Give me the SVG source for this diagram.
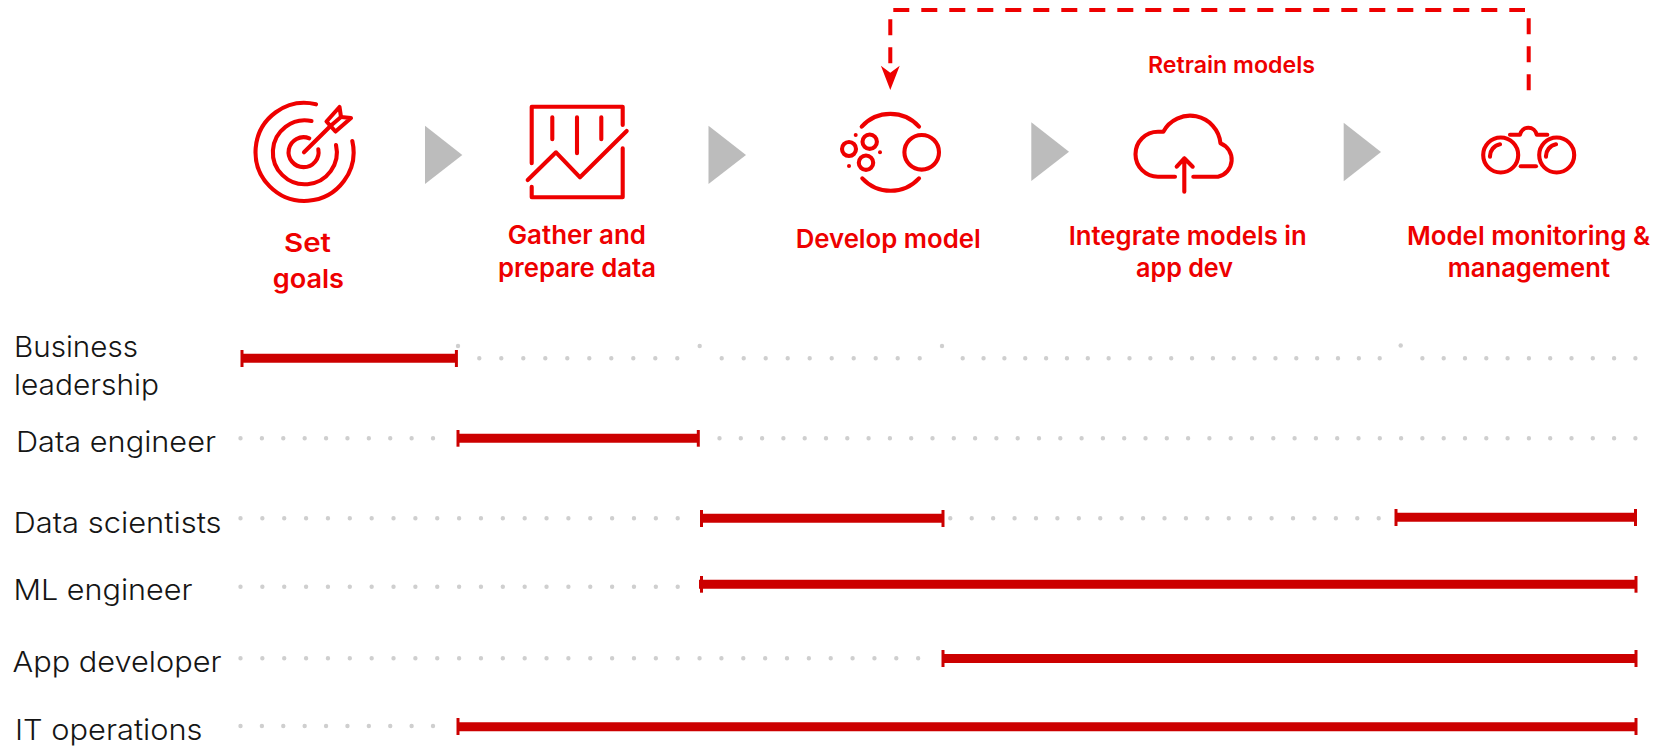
<svg xmlns="http://www.w3.org/2000/svg" width="1671" height="747" viewBox="0 0 1671 747">
<style>
.ic{fill:none;stroke:#e00;stroke-width:4.1;stroke-linecap:round;stroke-linejoin:round}
.fd{fill:#e00}
.st{font-family:"Inter","Liberation Sans",sans-serif;font-weight:600;font-size:26px;fill:#e00}
.rt{font-size:22.5px}
.re{font-family:"Inter","Liberation Sans",sans-serif;font-weight:300;font-size:29px;fill:#151515}
.dash{fill:none;stroke:#e00;stroke-width:4;stroke-dasharray:16 12}
.tri{fill:#bcbcbc}
.dot{fill:none;stroke:#cfcfcf;stroke-width:4.4;stroke-linecap:round}
.off{fill:#cfcfcf}
.bar{stroke:#c00;stroke-width:9}
.tick{stroke:#c00;stroke-width:3}
</style>
<defs>
<marker id="head" markerUnits="userSpaceOnUse" viewBox="-3 -10 28 20" markerWidth="28" markerHeight="20" refX="-2.4" refY="0" orient="auto">
<path d="M0 -9.4L7 0L0 9.4L24.3 0Z" fill="#e00"/>
</marker>
</defs>
<rect width="1671" height="747" fill="#fff"/>
<g id="connectors">
<line class="dash" x1="1528.7" y1="90.3" x2="1528.7" y2="18"/>
<line class="dash" x1="893.3" y1="10" x2="1525" y2="10"/>
<line class="dash" x1="890.3" y1="19.3" x2="890.3" y2="63.3" marker-end="url(#head)"/>
<polygon class="tri" points="425,125.7 462.3,155 425,184"/>
<polygon class="tri" points="708.5,125.7 746,155 708.5,184"/>
<polygon class="tri" points="1031.3,122.3 1069,151.7 1031.3,181"/>
<polygon class="tri" points="1343.7,122.7 1381,152 1343.7,181.3"/>
</g>
<text id="retrain-label" class="st rt" x="1148" y="73" textLength="167" lengthAdjust="spacingAndGlyphs">Retrain models</text>
<g id="set-goals">
<path class="ic" d="M316 104.3A49 49 0 1 0 352.3 141"/>
<path class="ic" d="M311.5 121A32 32 0 1 0 336 145"/>
<path class="ic" d="M309.3 138.3A15 15 0 1 0 318.3 149.3"/>
<path class="ic" d="M304 152.3L331 125.5"/>
<path class="ic" d="M326.5 121.5L339.5 107L341 117L351 118L335.5 131.5Z"/>
<path class="ic" d="M331 125.5L341 117"/>
<text class="st" x="284" y="251.7" textLength="47" lengthAdjust="spacingAndGlyphs">Set</text>
<text class="st" x="272.7" y="287.7" textLength="71.3" lengthAdjust="spacingAndGlyphs">goals</text>
</g>
<g id="gather-data">
<path class="ic" d="M531.7 163.3V106.7H622.7V125"/>
<path class="ic" d="M622.7 148.3V197.3H531.7V186.7"/>
<path class="ic" d="M527.7 180L556 152.3L580 177.3L626.7 131"/>
<path class="ic" d="M552.3 117.3V139.3M577 117.3V153.3M601.3 117.3V139.3"/>
<text class="st" x="507.7" y="244" textLength="138.3" lengthAdjust="spacingAndGlyphs">Gather and</text>
<text class="st" x="498" y="276.7" textLength="158" lengthAdjust="spacingAndGlyphs">prepare data</text>
</g>
<g id="develop-model">
<path class="ic" d="M861.7 126.7A38.5 38.5 0 0 1 919 126.7"/>
<path class="ic" d="M862.3 178.3A38.5 38.5 0 0 0 919 178.3"/>
<circle class="ic" cx="921.7" cy="152.3" r="17.3"/>
<circle class="ic" cx="849" cy="149" r="7"/>
<circle class="ic" cx="869.7" cy="141.7" r="7.2"/>
<circle class="ic" cx="866" cy="162.7" r="7.2"/>
<circle class="fd" cx="855.7" cy="135" r="2"/>
<circle class="fd" cx="880" cy="152.3" r="2"/>
<circle class="fd" cx="849" cy="166" r="2"/>
<text class="st" x="795.7" y="248.3" textLength="185" lengthAdjust="spacingAndGlyphs">Develop model</text>
</g>
<g id="integrate-models">
<path class="ic" d="M1175 176.7H1158A22.5 22.5 0 0 1 1158 131.7H1163.3A30.5 30.5 0 0 1 1220.5 143.3A17.5 17.5 0 0 1 1218 176.7H1193.3"/>
<path class="ic" d="M1184.3 191.7V158.3M1176.7 166.7L1184.3 158.3L1192.7 166.7"/>
<text class="st" x="1068.7" y="245" textLength="238" lengthAdjust="spacingAndGlyphs">Integrate models in</text>
<text class="st" x="1136" y="276.7" textLength="97" lengthAdjust="spacingAndGlyphs">app dev</text>
</g>
<g id="model-monitoring">
<circle class="ic" cx="1500.7" cy="155" r="17.5"/>
<circle class="ic" cx="1556.7" cy="155" r="17.5"/>
<path class="ic" d="M1490 156.7A12 12 0 0 1 1500 144.3M1546 156.7A12 12 0 0 1 1556 144.3"/>
<path class="ic" d="M1520.7 166.3H1536"/>
<path class="ic" d="M1510 134.7H1520A8.5 8.5 0 0 1 1536.7 134.7H1547.3"/>
<text class="st" x="1407" y="245" textLength="243" lengthAdjust="spacingAndGlyphs">Model monitoring &amp;</text>
<text class="st" x="1447.7" y="276.7" textLength="162.3" lengthAdjust="spacingAndGlyphs">management</text>
</g>
<g id="business-leadership">
<text class="re" x="14" y="357" textLength="124" lengthAdjust="spacingAndGlyphs">Business</text>
<text class="re" x="14" y="395" textLength="145" lengthAdjust="spacingAndGlyphs">leadership</text>
<path class="dot" stroke-dasharray="0 22" d="M479.3 358.3H677.8M721.7 358.3H920.5"/>
<path class="dot" stroke-dasharray="0 20.85" d="M962.7 358.3H1380"/>
<path class="dot" stroke-dasharray="0 21.3" d="M1422.4 358.3H1636"/>
<circle class="off" cx="458" cy="346" r="2.2"/>
<circle class="off" cx="699.7" cy="346" r="2.2"/>
<circle class="off" cx="942" cy="346" r="2.2"/>
<circle class="off" cx="1400.7" cy="345.5" r="2.2"/>
<line class="bar" x1="242" y1="358.3" x2="456.4" y2="358.3"/>
<line class="tick" x1="242" y1="350" x2="242" y2="367"/>
<line class="tick" x1="456.4" y1="350" x2="456.4" y2="367"/>
</g>
<g id="data-engineer">
<text class="re" x="16" y="452" textLength="200" lengthAdjust="spacingAndGlyphs">Data engineer</text>
<path class="dot" stroke-dasharray="0 21.39" d="M240.5 438.3H433.5"/>
<path class="dot" stroke-dasharray="0 21.3" d="M719.5 438.3H1636"/>
<line class="bar" x1="458" y1="438.3" x2="698.3" y2="438.3"/>
<line class="tick" x1="458" y1="430" x2="458" y2="446.7"/>
<line class="tick" x1="698.3" y1="430" x2="698.3" y2="446.7"/>
</g>
<g id="data-scientists">
<text class="re" x="13.5" y="532.5" textLength="208" lengthAdjust="spacingAndGlyphs">Data scientists</text>
<path class="dot" stroke-dasharray="0 21.86" d="M240.5 518.3H678.2"/>
<path class="dot" stroke-dasharray="0 21.42" d="M950.3 518.3H1379.2"/>
<line class="bar" x1="701.5" y1="518.3" x2="943" y2="518.3"/>
<line class="tick" x1="701.5" y1="510" x2="701.5" y2="527"/>
<line class="tick" x1="943" y1="510" x2="943" y2="527"/>
<line class="bar" x1="1396" y1="517.3" x2="1635.5" y2="517.3"/>
<line class="tick" x1="1396" y1="509" x2="1396" y2="526"/>
<line class="tick" x1="1635.5" y1="509" x2="1635.5" y2="526"/>
</g>
<g id="ml-engineer">
<text class="re" x="13.5" y="600" textLength="179" lengthAdjust="spacingAndGlyphs">ML engineer</text>
<path class="dot" stroke-dasharray="0 21.86" d="M240.5 586.7H678.2"/>
<line class="bar" x1="699" y1="584.3" x2="1636" y2="584.3"/>
<line class="tick" x1="701.5" y1="576" x2="701.5" y2="592.7"/>
<line class="tick" x1="1636" y1="576" x2="1636" y2="592.7"/>
</g>
<g id="app-developer">
<text class="re" x="12.5" y="671.5" textLength="209" lengthAdjust="spacingAndGlyphs">App developer</text>
<path class="dot" stroke-dasharray="0 21.86" d="M240.5 658.3H939"/>
<line class="bar" x1="943" y1="658.6" x2="1636" y2="658.6"/>
<line class="tick" x1="943" y1="650" x2="943" y2="667"/>
<line class="tick" x1="1636" y1="650" x2="1636" y2="667"/>
</g>
<g id="it-operations">
<text class="re" x="15" y="740" textLength="187.5" lengthAdjust="spacingAndGlyphs">IT operations</text>
<path class="dot" stroke-dasharray="0 21.39" d="M240.5 726H433.5"/>
<line class="bar" x1="458" y1="726.7" x2="1636" y2="726.7"/>
<line class="tick" x1="458" y1="718" x2="458" y2="735"/>
<line class="tick" x1="1636" y1="718" x2="1636" y2="735"/>
</g>
</svg>
